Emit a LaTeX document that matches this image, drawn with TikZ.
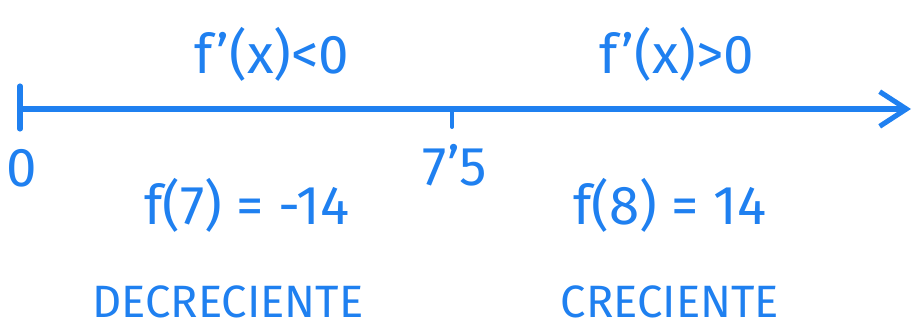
\documentclass[tikz,border=0pt]{standalone}
\usepackage{fontspec}
\setmainfont{Fira Sans}
\usetikzlibrary{arrows.meta}
\definecolor{pen}{HTML}{1F80F0}
\begin{document}
\begin{tikzpicture}[x=0.75pt,y=-0.75pt,
  ink/.style={draw=pen,line width=3.8pt,line cap=round,line join=round},
  big/.style={text=pen,inner sep=0pt,font=\fontsize{41}{46}\selectfont},
  small/.style={text=pen,inner sep=0pt,font=\fontsize{34}{38}\selectfont}]
\useasboundingbox (0,0) rectangle (915,334);
\coordinate (start) at (20,109);
\coordinate (end) at (911,109);
\coordinate (t0a) at (20,86);
\coordinate (t0b) at (20,129);
\coordinate (tma) at (452,112);
\coordinate (tmb) at (452,127);
\draw[ink,-{Straight Barb[length=20pt,width=26pt,line width=3.8pt]}] (start) -- (end);
\draw[ink] (t0a) -- (t0b);
\draw[ink,line width=3pt] (tma) -- (tmb);
\node[big] (dneg) at (272,54) {f'(x)<0};
\node[big] (dpos) at (677,54) {f'(x)>0};
\node[big] (zero) at (22,168) {0};
\node[big] (mid) at (455,165) {7'5};
\node[big] (f7) at (247,205) {f(7) = -14};
\node[big] (f8) at (670,205) {f(8) = 14};
\node[small] (dec) at (228,302) {DECRECIENTE};
\node[small] (cre) at (670,302) {CRECIENTE};
\end{tikzpicture}
\end{document}
